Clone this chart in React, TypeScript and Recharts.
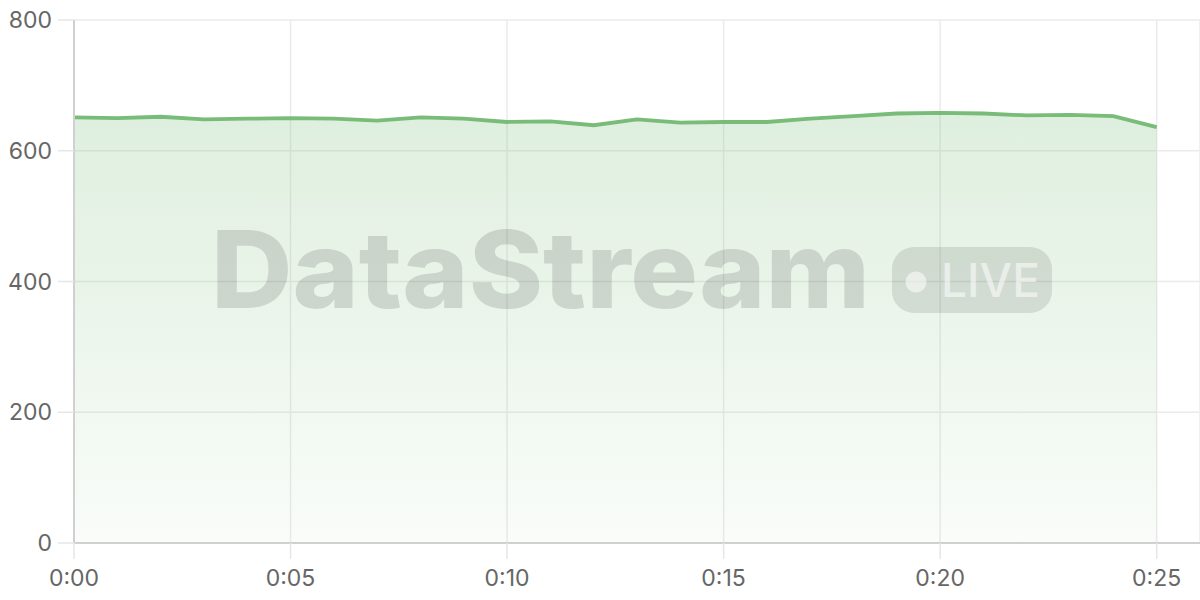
import { AreaChart, Area, XAxis, YAxis, CartesianGrid } from "recharts";

// minutes since start
const minutes = [0, 1, 2, 3, 4, 5, 6, 7, 8, 9, 10, 11, 12, 13, 14, 15, 16, 17, 18, 19, 20, 21, 22, 23, 24, 25];
// events per second
const rates = [651, 650, 652, 648, 649, 650, 649, 646, 651, 649, 644, 645, 639, 648, 643, 644, 644, 649, 653, 657, 658, 657, 654, 655, 653, 636];

const xTicks = [0, 5, 10, 15, 20, 25];
const yTicks = [0, 200, 400, 600, 800];

const LINE = "#78bc78";
const FONT = "Inter, 'Noto Sans', sans-serif";

const data = minutes.map((m, i) => ({ minute: m, rate: rates[i] }));

const fmtMinute = (m: number) => `0:${String(m).padStart(2, "0")}`;

export default function App() {
  return (
    <div style={{ position: "absolute", left: 0, top: 0, width: 1200, height: 600, background: "#fff", fontFamily: FONT }}>
      <AreaChart width={1200} height={600} data={data} margin={{ top: 20, right: 0, bottom: 0, left: 0 }}>
        <defs>
          <linearGradient id="fillGreen" x1="0" y1="0" x2="0" y2="1">
            <stop offset="0%" stopColor={LINE} stopOpacity={0.4} />
            <stop offset="100%" stopColor={LINE} stopOpacity={0.07} />
          </linearGradient>
        </defs>
        <CartesianGrid stroke="#ebebeb" strokeWidth={1.5} />
        <XAxis
          dataKey="minute"
          type="number"
          domain={[0, 26]}
          ticks={xTicks}
          tickFormatter={fmtMinute}
          height={57}
          tickSize={16}
          tickMargin={11}
          axisLine={{ stroke: "#d0d0d0", strokeWidth: 2 }}
          tickLine={{ stroke: "#e6e6e6", strokeWidth: 1.5 }}
          tick={{ fill: "#666", fontSize: 23, fontFamily: FONT }}
        />
        <YAxis
          domain={[0, 800]}
          ticks={yTicks}
          width={74}
          tickSize={16}
          tickMargin={6}
          axisLine={{ stroke: "#d0d0d0", strokeWidth: 2 }}
          tickLine={{ stroke: "#e6e6e6", strokeWidth: 1.5 }}
          tick={{ fill: "#666", fontSize: 23, fontFamily: FONT }}
        />
        <Area
          type="linear"
          dataKey="rate"
          stroke={LINE}
          strokeWidth={3.8}
          fill="url(#fillGreen)"
          dot={false}
          activeDot={false}
          isAnimationActive={false}
        />
      </AreaChart>
      {/* watermark */}
      <svg width={1200} height={600} style={{ position: "absolute", left: 0, top: 0, pointerEvents: "none" }}>
        <g opacity={0.12}>
          <text
            x={211}
            y={308}
            fontFamily={FONT}
            fontWeight={800}
            fontSize={107}
            textLength={659}
            lengthAdjust="spacingAndGlyphs"
            fill="#000"
          >
            DataStream
          </text>
        </g>
        <rect x={892} y={247} width={160} height={66} rx={22} fill="#000" opacity={0.1} />
        <circle cx={916} cy={282} r={10.5} fill="#fff" opacity={0.55} />
        <text x={941} y={297} fontFamily={FONT} fontWeight={500} fontSize={46} fill="#fff" opacity={0.55}>
          LIVE
        </text>
      </svg>
    </div>
  );
}
